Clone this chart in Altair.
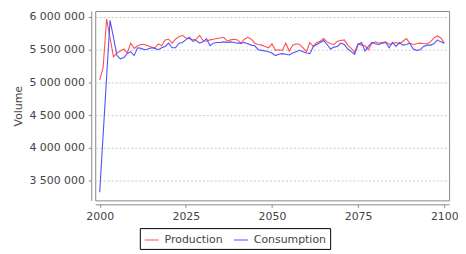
import altair as alt
import pandas as pd

years = list(range(2000, 2101))

production = [
    5.04, 5.23, 5.97, 5.68, 5.39, 5.45, 5.48, 5.51, 5.45, 5.60,
    5.52, 5.56, 5.58, 5.58, 5.56, 5.54, 5.53, 5.59, 5.56, 5.65,
    5.66, 5.60, 5.66, 5.70, 5.72, 5.68, 5.67, 5.65, 5.66, 5.72,
    5.64, 5.63, 5.65, 5.66, 5.67, 5.68, 5.69, 5.63, 5.65, 5.66,
    5.65, 5.60, 5.66, 5.69, 5.66, 5.60, 5.58, 5.57, 5.55, 5.53,
    5.59, 5.49, 5.50, 5.49, 5.60, 5.48, 5.57, 5.59, 5.58, 5.53,
    5.47, 5.61, 5.55, 5.61, 5.63, 5.67, 5.62, 5.59, 5.58, 5.63,
    5.64, 5.65, 5.57, 5.52, 5.46, 5.59, 5.57, 5.56, 5.50, 5.60,
    5.62, 5.60, 5.61, 5.62, 5.58, 5.60, 5.61, 5.59, 5.63, 5.67,
    5.60, 5.58, 5.59, 5.60, 5.59, 5.59, 5.62, 5.68, 5.71, 5.68,
    5.60,
]

consumption = [
    3.32, 4.20, 5.08, 5.95, 5.69, 5.41, 5.36, 5.38, 5.44, 5.47,
    5.41, 5.53, 5.52, 5.50, 5.51, 5.53, 5.52, 5.50, 5.53, 5.55,
    5.60, 5.53, 5.53, 5.60, 5.61, 5.65, 5.69, 5.63, 5.64, 5.60,
    5.62, 5.67, 5.56, 5.60, 5.61, 5.61, 5.62, 5.61, 5.62, 5.61,
    5.60, 5.60, 5.61, 5.59, 5.57, 5.56, 5.50, 5.49, 5.48, 5.47,
    5.45, 5.41, 5.43, 5.44, 5.43, 5.42, 5.45, 5.47, 5.49, 5.47,
    5.45, 5.44, 5.55, 5.58, 5.61, 5.64, 5.58, 5.51, 5.54, 5.55,
    5.60, 5.58, 5.51, 5.47, 5.43, 5.58, 5.61, 5.48, 5.55, 5.61,
    5.59, 5.58, 5.60, 5.61, 5.53, 5.61, 5.55, 5.61, 5.57, 5.58,
    5.60, 5.51, 5.49, 5.50, 5.55, 5.57, 5.57, 5.59, 5.65, 5.62,
    5.60,
]

series_names = ["Production", "Consumption"]
series_colors = ["#ff5050", "#5050ff"]
y_ticks = [3500000, 4000000, 4500000, 5000000, 5500000, 6000000]
x_ticks = [2000, 2025, 2050, 2075, 2100]

rows = []
for name, vals in zip(series_names, [production, consumption]):
    for yr, v in zip(years, vals):
        rows.append({"Year": yr, "Volume": round(v * 1_000_000), "Series": name})
df = pd.DataFrame(rows)

font = "DejaVu Sans"

chart = alt.Chart(df).mark_line(strokeWidth=1.1).encode(
    x=alt.X(
        "Year:Q",
        scale=alt.Scale(domain=[1998.7, 2101.4], nice=False, zero=False),
        axis=alt.Axis(
            values=x_ticks, format="d", title=None, grid=False, offset=4,
            domainColor="#888888", tickColor="#888888", tickSize=3,
            labelColor="#444444", labelFontSize=11, labelFont=font, labelPadding=3,
        ),
    ),
    y=alt.Y(
        "Volume:Q",
        scale=alt.Scale(domain=[3197000, 6091000], nice=False, zero=False),
        axis=alt.Axis(
            values=y_ticks, title="Volume", grid=True, gridDash=[2, 2],
            gridColor="#c8c8c8", offset=4,
            domainColor="#888888", tickColor="#888888", tickSize=3,
            labelColor="#444444", labelFontSize=11, labelFont=font, labelPadding=4,
            labelExpr="replace(format(datum.value, ','), regexp(',', 'g'), ' ')",
            titleFont=font, titleFontSize=11, titleFontWeight="normal",
            titleColor="#444444", titlePadding=5,
        ),
    ),
    color=alt.Color(
        "Series:N",
        scale=alt.Scale(domain=series_names, range=series_colors),
        sort=series_names,
        legend=alt.Legend(
            title=None, orient="none", legendX=45, legendY=219,
            direction="horizontal", symbolType="stroke", symbolSize=200,
            symbolStrokeWidth=1, labelFont=font, labelFontSize=11,
            labelColor="#444444", strokeColor="black", fillColor="white",
            padding=4, columnPadding=8, labelOffset=5,
        ),
    ),
).properties(
    width=357,
    height=191,
    background="white",
    autosize=alt.AutoSizeParams(type="none"),
    padding={"left": 88, "top": 2, "right": 9, "bottom": 49},
).configure_view(
    stroke="#888888", strokeWidth=1
)

chart.save("out.html", embed_options={"renderer": "svg", "actions": False})
